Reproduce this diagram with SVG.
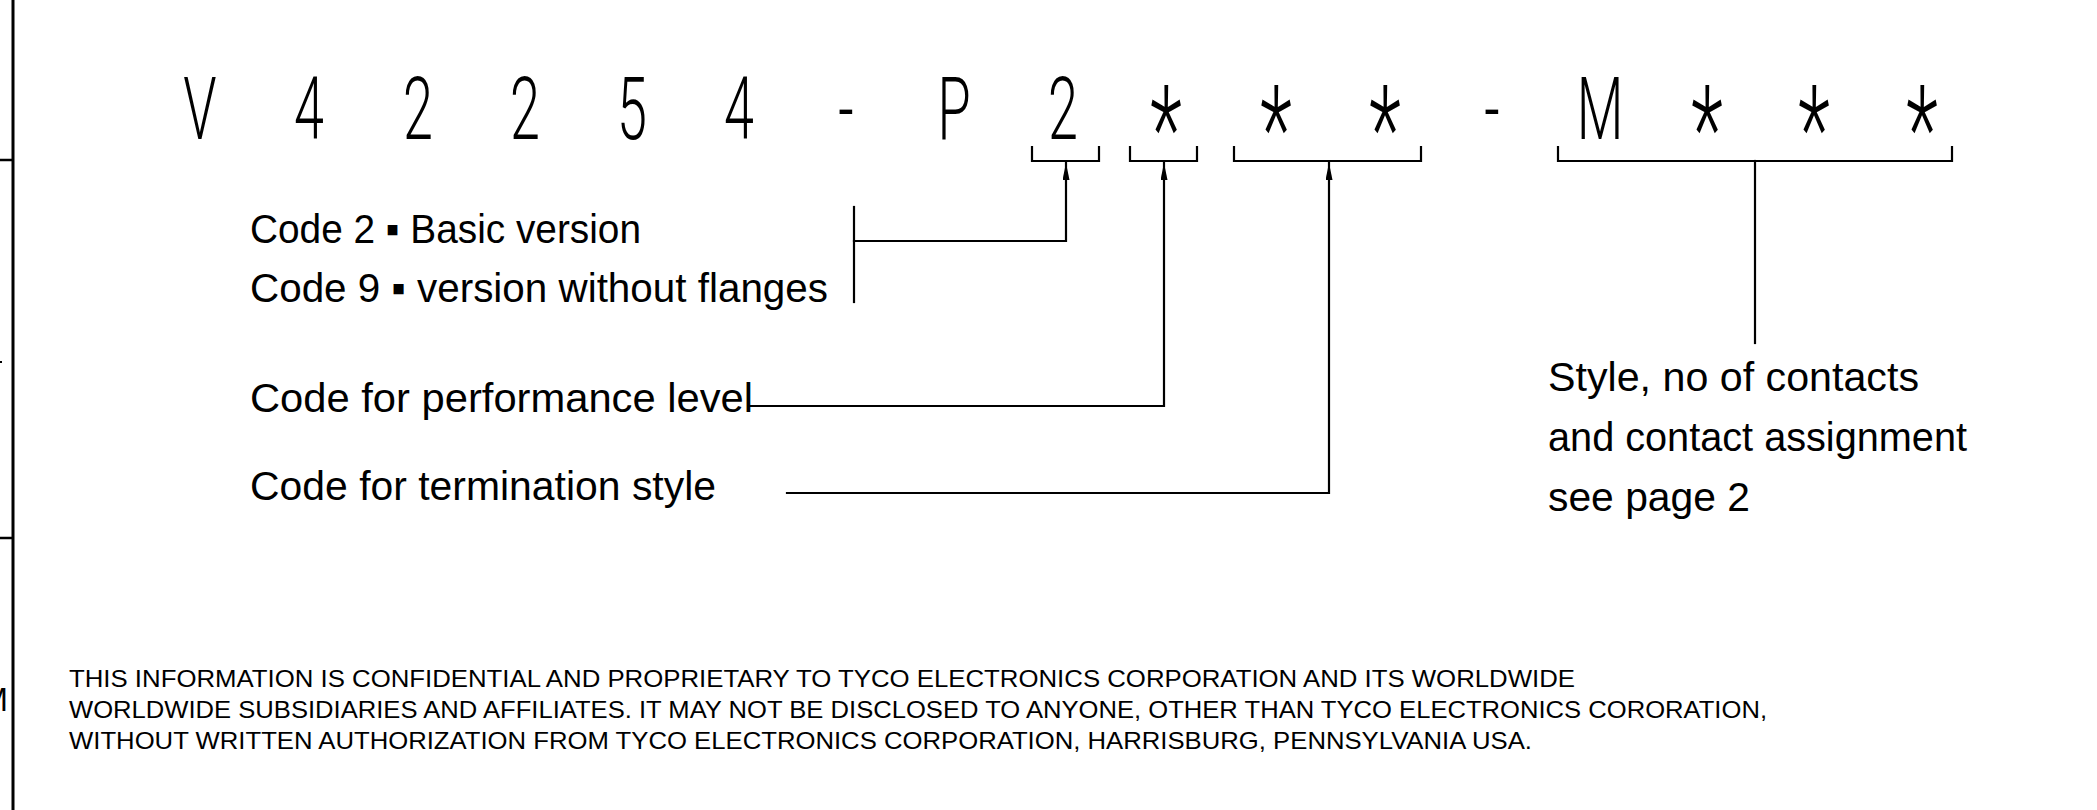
<svg xmlns="http://www.w3.org/2000/svg" width="2097" height="810" viewBox="0 0 2097 810">
<style>
.ln{fill:none;stroke:#000;stroke-width:2.2;stroke-linecap:square}
.pn{font-family:Roboto,"Liberation Sans",sans-serif;font-weight:300;font-size:87px;fill:#000;text-anchor:middle}
.ast{font-size:120px}
.lbl{font-family:"Liberation Sans",Arial,sans-serif;font-size:41px;fill:#000}
.ft{font-family:"Liberation Sans",Arial,sans-serif;font-size:24px;fill:#000}
</style>
<defs>
<marker id="arr" markerUnits="userSpaceOnUse" markerWidth="18" markerHeight="8" refX="17" refY="3.5" orient="auto">
<path d="M0,0 L17,3.5 L0,7 z" fill="#000"/>
</marker>
</defs>
<rect width="2097" height="810" fill="#fff"/>
<g id="frame">
<line x1="13" y1="0" x2="13" y2="810" stroke="#000" stroke-width="3"/>
<line x1="0" y1="160" x2="13" y2="160" stroke="#000" stroke-width="2.5"/>
<line x1="0" y1="538" x2="13" y2="538" stroke="#000" stroke-width="2.5"/>
<rect x="0" y="361" width="2" height="2" fill="#000"/>
<text x="8" y="711" font-family="Liberation Sans,Arial,sans-serif" font-size="33" text-anchor="end" fill="#000">M</text>
</g>
<g id="part-number">
<text class="pn" transform="scale(0.62,1)"><tspan x="322.6" y="139">V</tspan><tspan x="498.4" y="139">4</tspan><tspan x="674.2" y="139">2</tspan><tspan x="846.8" y="139">2</tspan><tspan x="1019.4" y="139">5</tspan><tspan x="1191.9" y="139">4</tspan><tspan x="1364.5" y="139">-</tspan><tspan x="1538.7" y="139">P</tspan><tspan x="1714.5" y="139">2</tspan><tspan class="ast" x="1880.6" y="171">*</tspan><tspan class="ast" x="2058.1" y="171">*</tspan><tspan class="ast" x="2233.9" y="171">*</tspan><tspan x="2406.5" y="139">-</tspan><tspan x="2580.6" y="139">M</tspan><tspan class="ast" x="2753.2" y="171">*</tspan><tspan class="ast" x="2925.8" y="171">*</tspan><tspan class="ast" x="3100" y="171">*</tspan></text>
</g>
<g id="brackets">
<path class="ln" d="M1032,147 V161 H1099 V147"/>
<path class="ln" d="M1130,147 V161 H1197 V147"/>
<path class="ln" d="M1234,147 V161 H1421 V147"/>
<path class="ln" d="M1558,147 V161 H1952 V147"/>
</g>
<g id="connectors">
<path class="ln" d="M854,207 V302"/>
<path class="ln" d="M854,241 H1066 V163" marker-end="url(#arr)"/>
<path class="ln" d="M750,406 H1164 V163" marker-end="url(#arr)"/>
<path class="ln" d="M787,493 H1329 V163" marker-end="url(#arr)"/>
<path class="ln" d="M1755,161 V343"/>
</g>
<g id="label-code2"><text class="lbl" x="250" y="243" textLength="391" lengthAdjust="spacingAndGlyphs">Code 2 ▪ Basic version</text></g>
<g id="label-code9"><text class="lbl" x="250" y="302" textLength="578" lengthAdjust="spacingAndGlyphs">Code 9 ▪ version without flanges</text></g>
<g id="label-performance"><text class="lbl" x="250" y="412" textLength="503" lengthAdjust="spacingAndGlyphs">Code for performance level</text></g>
<g id="label-termination"><text class="lbl" x="250" y="500" textLength="466" lengthAdjust="spacingAndGlyphs">Code for termination style</text></g>
<g id="label-style">
<text class="lbl" x="1548" y="391" textLength="371" lengthAdjust="spacingAndGlyphs">Style, no of contacts</text>
<text class="lbl" x="1548" y="451" textLength="419" lengthAdjust="spacingAndGlyphs">and contact assignment</text>
<text class="lbl" x="1548" y="511" textLength="202" lengthAdjust="spacingAndGlyphs">see page 2</text>
</g>
<g id="footer">
<text class="ft" x="69" y="687" textLength="1506" lengthAdjust="spacingAndGlyphs">THIS INFORMATION IS CONFIDENTIAL AND PROPRIETARY TO TYCO ELECTRONICS CORPORATION AND ITS WORLDWIDE</text>
<text class="ft" x="69" y="718" textLength="1698" lengthAdjust="spacingAndGlyphs">WORLDWIDE SUBSIDIARIES AND AFFILIATES. IT MAY NOT BE DISCLOSED TO ANYONE, OTHER THAN TYCO ELECTRONICS CORORATION,</text>
<text class="ft" x="69" y="749" textLength="1463" lengthAdjust="spacingAndGlyphs">WITHOUT WRITTEN AUTHORIZATION FROM TYCO ELECTRONICS CORPORATION, HARRISBURG, PENNSYLVANIA USA.</text>
</g>
</svg>
